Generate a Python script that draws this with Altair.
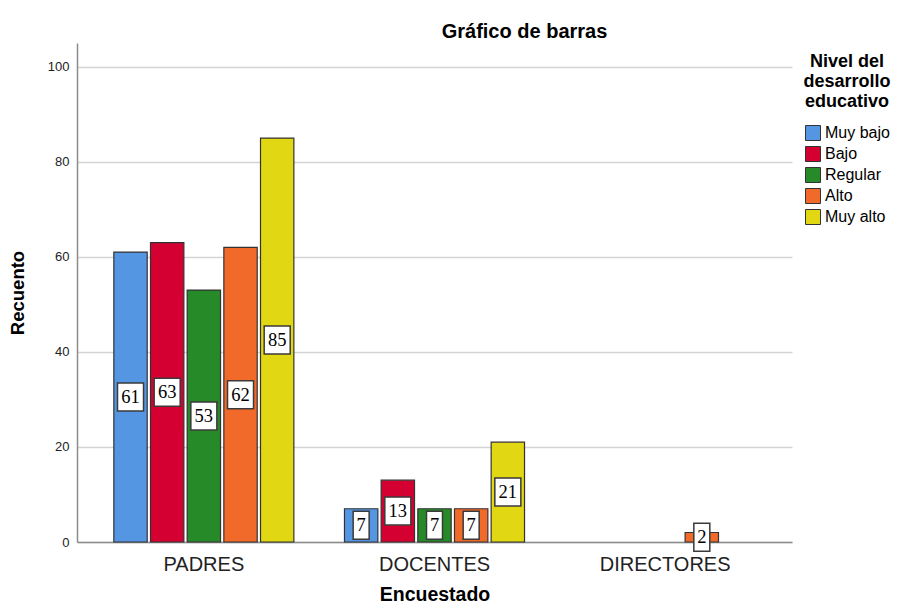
import altair as alt
import pandas as pd

grupos = ["PADRES", "DOCENTES", "DIRECTORES"]
niveles = ["Muy bajo", "Bajo", "Regular", "Alto", "Muy alto"]
padres = [61, 63, 53, 62, 85]
docentes = [7, 13, 7, 7, 21]
directores = [0, 0, 0, 2, 0]
colores = ["#5596E3", "#D50032", "#278A29", "#F26A2A", "#E1D712"]

rows = []
for g, vals in zip(grupos, [padres, docentes, directores]):
    for n, v in zip(niveles, vals):
        if v > 0:
            rows.append({"Encuestado": g, "Nivel": n, "Recuento": v,
                         "digitos": str(len(str(v)))})
df = pd.DataFrame(rows)

FONT = "Liberation Sans"

x_enc = alt.X(
    "Encuestado:N", sort=grupos,
    scale=alt.Scale(domain=grupos, paddingInner=0, paddingOuter=0.05),
    axis=alt.Axis(
        labelAngle=0, ticks=False, grid=False, labelPadding=12,
        labelFontSize=20, labelFont=FONT, labelColor="#222",
        domainColor="#8C8C8C", domainWidth=1.5,
        title="Encuestado", titleX=357.5, titleY=58, titleBaseline="alphabetic",
        titleFontSize=19.5, titleFont=FONT, titleFontWeight="bold", titleColor="black",
    ),
)
xo_enc = alt.XOffset(
    "Nivel:N", sort=niveles,
    scale=alt.Scale(domain=niveles, paddingInner=0.09, paddingOuter=0.69),
)
y_scale = alt.Scale(domain=[0, 105], nice=False)

bars = alt.Chart(df).mark_bar(stroke="#333333", strokeWidth=1.2).encode(
    x=x_enc,
    xOffset=xo_enc,
    y=alt.Y(
        "Recuento:Q", scale=y_scale,
        axis=alt.Axis(
            values=[0, 20, 40, 60, 80, 100], grid=True, gridColor="#D4D4D4",
            gridWidth=1.5, domainColor="#8C8C8C", domainWidth=1.5, ticks=False,
            labelPadding=8, labelFontSize=13, labelFont=FONT, labelColor="#222",
            title="Recuento", titleFontSize=18.5, titleFont=FONT,
            titleFontWeight="bold", titleColor="black", titleX=-54, titleY=249.5,
            titleBaseline="alphabetic", titleAngle=270,
        ),
    ),
    color=alt.Color(
        "Nivel:N", sort=niveles,
        scale=alt.Scale(domain=niveles, range=colores),
        legend=alt.Legend(
            title=["Nivel del", "desarrollo", "educativo"],
            orient="none", legendX=726, legendY=10,
            titleFontSize=18, titleFont=FONT, titleFontWeight="bold",
            titleColor="black", titleAlign="center", titleAnchor="middle",
            titleLineHeight=20, titlePadding=14,
            labelFontSize=16, labelFont=FONT, labelColor="black", labelOffset=4,
            symbolType="square", symbolSize=225, symbolStrokeColor="#333333",
            symbolStrokeWidth=1, symbolOpacity=1, rowPadding=1,
        ),
    ),
)

p1 = "M-0.571,-1L0.571,-1L0.571,1L-0.571,1Z"
p2 = "M-0.929,-1L0.929,-1L0.929,1L-0.929,1Z"

base_lab = alt.Chart(df).transform_calculate(mitad="datum.Recuento / 2")

boxes = base_lab.mark_point(
    filled=True, fill="white", stroke="#3A3A3A", strokeWidth=1.5, opacity=1, size=784
).encode(
    x=x_enc,
    xOffset=xo_enc,
    y=alt.Y("mitad:Q", scale=y_scale, title="Recuento"),
    shape=alt.Shape("digitos:N", scale=alt.Scale(domain=["1", "2"], range=[p1, p2]),
                    legend=None),
)

texts = base_lab.mark_text(
    font="Liberation Serif", fontSize=18.5, color="black", baseline="middle", align="center"
).encode(
    x=x_enc,
    xOffset=xo_enc,
    y=alt.Y("mitad:Q", scale=y_scale, title="Recuento"),
    text=alt.Text("Recuento:Q"),
)

chart = alt.layer(bars, boxes, texts).properties(
    width=715, height=499,
    background="white",
    autosize=alt.AutoSizeParams(type="none"),
    padding={"left": 69, "top": 35, "right": 102, "bottom": 62},
    title=alt.TitleParams(
        "Gráfico de barras", fontSize=20, font=FONT, fontWeight="bold",
        color="black", anchor="middle", dx=90, dy=25, offset=10, baseline="alphabetic",
    ),
).configure_view(strokeWidth=0, stroke="transparent")

chart.save("out.html", embed_options={"renderer": "svg", "actions": False})
